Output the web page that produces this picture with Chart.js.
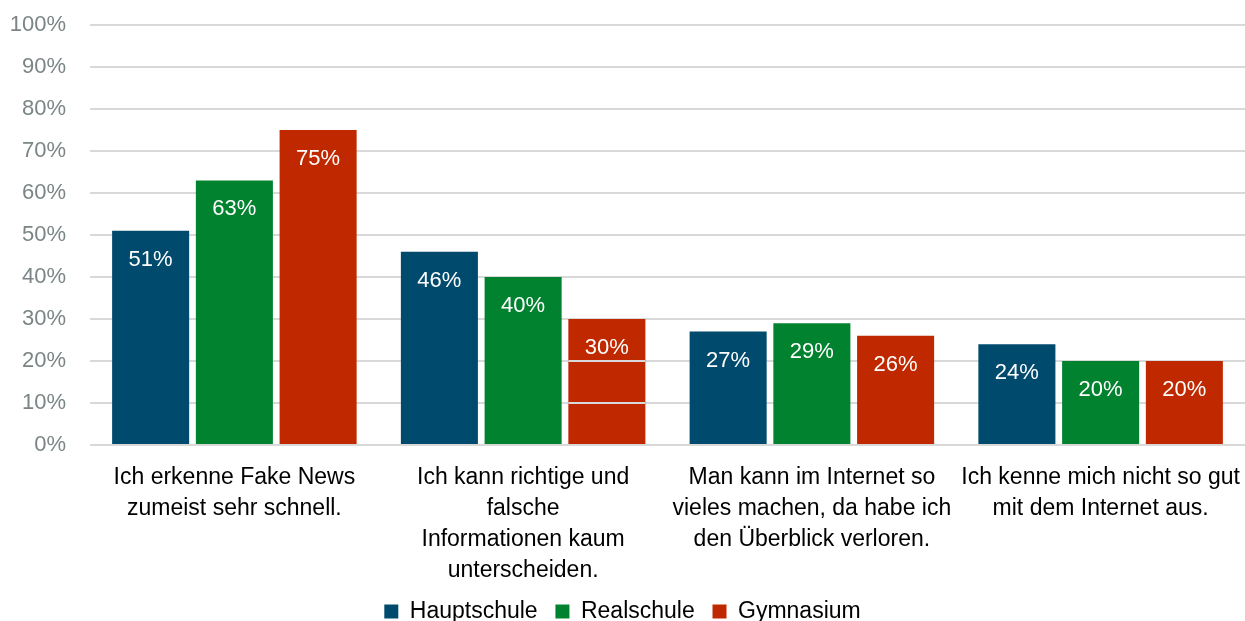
<!DOCTYPE html>
<html lang="de">
<head>
    <meta charset="UTF-8">
    <title>Fake News Umfrage</title>
    <script src="https://cdn.jsdelivr.net/npm/chart.js"></script>
    <style>
        body { margin: 0; background: #fff; }
        #chartBox { width: 1245px; height: 621px; }
    </style>
</head>
<body>
    <div id="chartBox">
        <canvas id="fakeNewsChart" width="1245" height="621"></canvas>
    </div>
    <script>
        const categories = [
            ['Ich erkenne Fake News', 'zumeist sehr schnell.'],
            ['Ich kann richtige und', 'falsche', 'Informationen kaum', 'unterscheiden.'],
            ['Man kann im Internet so', 'vieles machen, da habe ich', 'den Überblick verloren.'],
            ['Ich kenne mich nicht so gut', 'mit dem Internet aus.']
        ];
        const seriesNames = ['Hauptschule', 'Realschule', 'Gymnasium'];
        const hauptschule = [51, 46, 27, 24];
        const realschule = [63, 40, 29, 20];
        const gymnasium = [75, 30, 26, 20];
        const seriesColors = ['#004a6e', '#00822f', '#c02800'];

        const fontFamily = "'Liberation Sans Narrow', 'Liberation Sans', Arial, sans-serif";

        // weisse Prozentwerte oben in den Balken
        const barLabels = {
            id: 'barLabels',
            afterDatasetsDraw(chart) {
                const ctx = chart.ctx;
                const y = chart.scales.y;

                // Gitterlinien liegen im Original ueber dem 30%-Balken
                const bar = chart.getDatasetMeta(2).data[1];
                ctx.save();
                ctx.strokeStyle = '#d9d9d9';
                ctx.lineWidth = 2;
                [10, 20].forEach(v => {
                    const py = Math.round(y.getPixelForValue(v));
                    ctx.beginPath();
                    ctx.moveTo(bar.x - bar.width / 2, py);
                    ctx.lineTo(bar.x + bar.width / 2, py);
                    ctx.stroke();
                });
                ctx.restore();

                ctx.save();
                ctx.fillStyle = '#ffffff';
                ctx.font = '22px ' + fontFamily;
                ctx.textAlign = 'center';
                ctx.textBaseline = 'middle';
                chart.data.datasets.forEach((ds, i) => {
                    chart.getDatasetMeta(i).data.forEach((el, j) => {
                        ctx.fillText(ds.data[j] + '%', el.x, el.y + 29);
                    });
                });
                ctx.restore();
            }
        };

        const ctx = document.getElementById('fakeNewsChart').getContext('2d');
        const chart = new Chart(ctx, {
            type: 'bar',
            data: {
                labels: categories,
                datasets: [
                    { label: seriesNames[0], data: hauptschule, backgroundColor: seriesColors[0] },
                    { label: seriesNames[1], data: realschule, backgroundColor: seriesColors[1] },
                    { label: seriesNames[2], data: gymnasium, backgroundColor: seriesColors[2] }
                ]
            },
            options: {
                responsive: false,
                animation: false,
                categoryPercentage: 0.87,
                barPercentage: 0.92,
                layout: { padding: { top: 25, right: 0, bottom: -12, left: 0 } },
                plugins: {
                    tooltip: { enabled: false },
                    legend: {
                        position: 'bottom',
                        labels: {
                            color: '#000',
                            font: { family: fontFamily, size: 23 },
                            boxWidth: 14,
                            boxHeight: 14,
                            padding: 5,
                            // Abstand zwischen den Eintraegen ueber Leerzeichen
                            generateLabels(chart) {
                                const items = Chart.defaults.plugins.legend.labels.generateLabels(chart);
                                items.forEach((it, i) => {
                                    if (i < items.length - 1) it.text += '\u00a0\u00a0';
                                });
                                return items;
                            }
                        }
                    }
                },
                scales: {
                    x: {
                        afterFit(scale) {
                            scale.paddingLeft = 0;
                            scale.paddingRight = 0;
                        },
                        grid: { display: false },
                        border: { display: false },
                        ticks: {
                            color: '#000',
                            font: { family: fontFamily, size: 23, lineHeight: '31px' },
                            padding: 9,
                            maxRotation: 0,
                            autoSkip: false
                        }
                    },
                    y: {
                        min: 0,
                        max: 100,
                        afterFit(scale) {
                            scale.width = 90;
                            scale.paddingTop = 0;
                        },
                        grid: { color: '#d9d9d9', lineWidth: 2, drawTicks: false },
                        border: { display: false },
                        ticks: {
                            stepSize: 10,
                            color: '#7b8585',
                            font: { family: fontFamily, size: 22 },
                            padding: 24,
                            callback: v => v + '%'
                        }
                    }
                }
            },
            plugins: [barLabels]
        });
    </script>
</body>
</html>
